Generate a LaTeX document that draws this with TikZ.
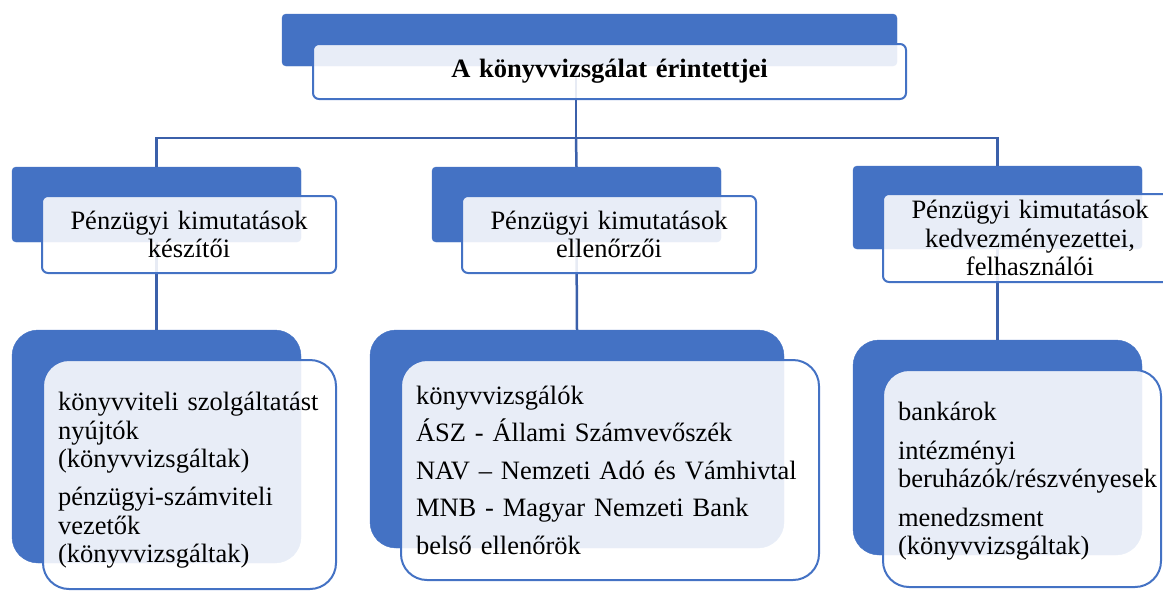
\documentclass[tikz,border=0pt]{standalone}
\usepackage{fontspec}
\setmainfont{Liberation Serif}
\usetikzlibrary{positioning}
\definecolor{cardblue}{RGB}{68,114,196}
\definecolor{linkblue}{RGB}{59,96,170}
\hyphenpenalty=10000
\exhyphenpenalty=10000

\begin{document}
\begin{tikzpicture}[x=1pt, y=-1pt,
  every node/.style={font=\fontsize{26.5}{28.5}\selectfont},
  back/.style={rectangle, fill=cardblue, draw=cardblue, rounded corners=4pt, inner sep=0pt},
  front/.style={rectangle, fill=white, fill opacity=0.88, text opacity=1, draw=cardblue, line width=2pt, rounded corners=6pt, inner xsep=15pt, inner ysep=0pt, align=center},
  leafback/.style={back, rounded corners=26pt},
  leaffront/.style={front, rounded corners=26pt, align=left},
  link/.style={draw=linkblue, line width=2.5pt}]
			\useasboundingbox (0,0) rectangle (1163,590);
			\clip (0,0) rectangle (1163,590);
			
			% back cards
			\node (titleback) [back, minimum width=615pt, minimum height=52pt] at (589.5,40) {};
			\node (makersback) [back, minimum width=289pt, minimum height=75pt] at (156.5,204.5) {};
			\node (checkersback) [back, minimum width=289pt, minimum height=75pt] at (576.5,204.5) {};
			\node (usersback) [back, minimum width=289pt, minimum height=83pt] at (997.5,207.5) {};
			\node (makerlistback) [leafback, minimum width=289pt, minimum height=233pt] at (156.5,446.5) {};
			\node (checkerlistback) [leafback, minimum width=414pt, minimum height=218pt] at (577,439) {};
			\node (userlistback) [leafback, minimum width=289pt, minimum height=215pt] at (997.5,447.5) {};
			
			% Links
			\coordinate (hub) at (576,138);
			\draw [link] (titleback.south -| hub) -- (hub) -| (makersback.north);
			\draw [link] (hub) -| (usersback.north);
			\draw [link] (hub) -- (checkersback.north);
			\draw [link] (makersback.south) -- (makerlistback.north);
			\draw [link] (checkersback.south) -- (checkerlistback.north);
			\draw [link] (usersback.south) -- (userlistback.north);
			
			% front cards
			\node (title) [front, text width=563pt, minimum height=55pt] at (609.5,71.5) {\textbf{A könyvvizsgálat érintettjei}};
			\node (makers) [front, text width=264pt, minimum height=77pt] at (189,234.5) {Pénzügyi kimutatások\\készítői};
			\node (checkers) [front, text width=264pt, minimum height=77pt] at (609,234.5) {Pénzügyi kimutatások\\ellenőrzői};
			\node (users) [front, text width=264pt, minimum height=88pt] at (1030,238) {Pénzügyi kimutatások\\kedvezményezettei,\\felhasználói};
			\node (makerlist) [leaffront, text width=263pt, minimum height=229pt] at (189.5,474.5) {\rule{0pt}{30pt}könyvviteli szolgáltatást\\nyújtók\\(könyvvizsgáltak)\\[9.5pt]pénzügyi-számviteli\\vezetők\\(könyvvizsgáltak)};
			\node (checkerlist) [leaffront, text width=388pt, minimum height=220pt] at (610,470) {könyvvizsgálók\\[9pt]ÁSZ - Állami Számvevőszék\\[9pt]NAV – Nemzeti Adó és Vámhivtal\\[9pt]MNB - Magyar Nemzeti Bank\\[9pt]belső ellenőrök};
			\node (userlist) [leaffront, text width=248pt, minimum height=217pt] at (1022,478.5) {\rule{0pt}{24pt}bankárok\\[10pt]intézményi\\beruházók/részvényesek\\[10pt]menedzsment\\(könyvvizsgáltak)};
		\end{tikzpicture}
\end{document}
